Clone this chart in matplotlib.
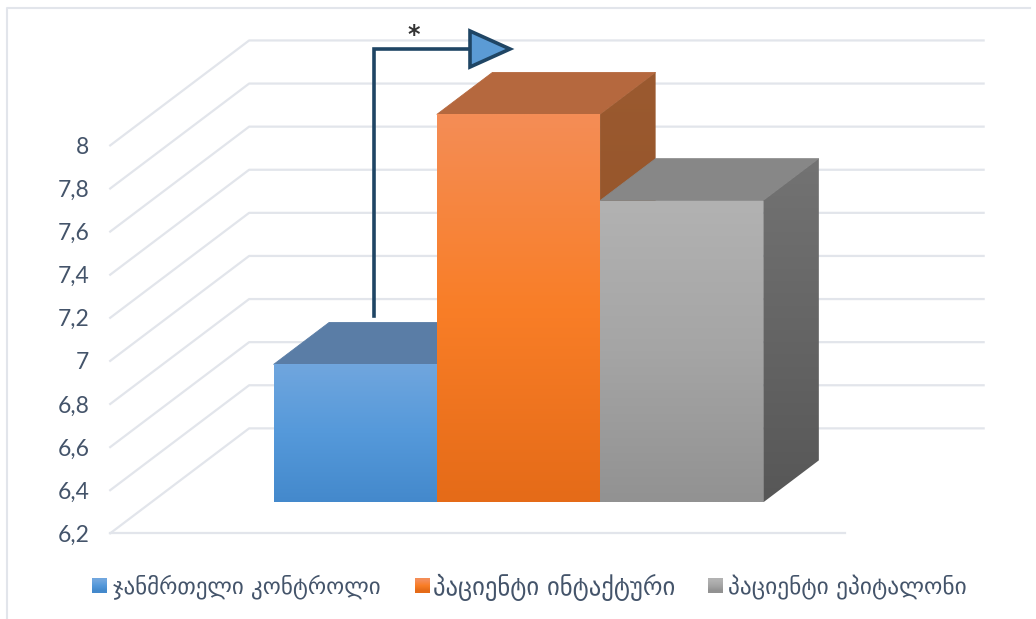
import matplotlib
matplotlib.use('Agg')
import matplotlib.pyplot as plt
from matplotlib.lines import Line2D
from matplotlib.patches import Polygon
import numpy as np

labels = ['ჯანმრთელი კონტროლი', 'პაციენტი ინტაქტური', 'პაციენტი ეპიტალონი']
values = [6.84, 8.0, 7.6]
ticks = [6.2, 6.4, 6.6, 6.8, 7.0, 7.2, 7.4, 7.6, 7.8, 8.0]
tick_labels = ['6,2', '6,4', '6,6', '6,8', '7', '7,2', '7,4', '7,6', '7,8', '8']

W, H = 1036, 619
GRID = '#e2e5eb'
TEXT = '#44546a'
NAVY = '#1f4564'

front_cols = [('#70a6de', '#5599da', '#4489cc'),
              ('#f48d56', '#f97e27', '#e56b18'),
              ('#b2b2b2', '#a5a5a5', '#929292')]
side_cols = [('#4f6f96', '#3a6a9a'),
             ('#9b5a30', '#8f4f22'),
             ('#737373', '#575757')]
top_cols = ['#5a7da6', '#b5683e', '#878787']

# oblique depth of the fake 3d box, in data units
DX = 139 / 163.3
DY = 0.487
T0, T1 = 0.295, 0.695


def proj(x, v, t):
    return (x + t * DX, v + t * DY)


def px(x, y):
    return (x / W, 1 - y / H)


def hex_rgb(c):
    return [int(c[i:i + 2], 16) / 255 for i in (1, 3, 5)]


def grad_poly(ax, pts, cols, z):
    pts = np.array(pts)
    stops = np.array([hex_rgb(c) for c in cols])
    n = 128
    pos = np.linspace(0, len(cols) - 1, n)
    img = np.stack([np.interp(pos, range(len(cols)), stops[:, i]) for i in range(3)], axis=1)
    img = img[:, None, :]
    im = ax.imshow(img, extent=(pts[:, 0].min(), pts[:, 0].max(), pts[:, 1].min(), pts[:, 1].max()),
                   aspect='auto', interpolation='bilinear', zorder=z)
    poly = Polygon(pts, closed=True, transform=ax.transData, fill=False, edgecolor='none')
    ax.add_patch(poly)
    poly.set_visible(False)
    im.set_clip_path(poly)
    im.set_clip_box(fig.bbox)


fig = plt.figure(figsize=(W / 100, H / 100), dpi=100)
ax = fig.add_axes([110.2 / W, 1 - 533.3 / H, 734.5 / W, (533.3 - 145.4) / H])
ax.set_xlim(-1.25, 3.25)
ax.set_ylim(6.2, 8.0)
for s in ax.spines.values():
    s.set_visible(False)
ax.patch.set_visible(False)
xmin, xmax = ax.get_xlim()

# wall and floor grid
for v in ticks:
    a = proj(xmin, v, 0)
    b = proj(xmin, v, 1)
    c = proj(xmax, v, 1)
    ax.plot([a[0], b[0], c[0]], [a[1], b[1], c[1]], color=GRID, lw=1.6, clip_on=False, zorder=1)
ax.plot([xmin, xmax], [ticks[0], ticks[0]], color=GRID, lw=1.6, clip_on=False, zorder=1)

# boxes, left to right so each one covers the side of the last
base = ticks[0]
for i, v in enumerate(values):
    l, r = i - 0.5, i + 0.5
    z = 3 + i * 3
    top = [proj(l, v, T0), proj(l, v, T1), proj(r, v, T1), proj(r, v, T0)]
    ax.add_patch(Polygon(top, closed=True, facecolor=top_cols[i], edgecolor=top_cols[i], lw=0.6,
                         clip_on=False, zorder=z))
    side = [proj(r, v, T0), proj(r, v, T1), proj(r, base, T1), proj(r, base, T0)]
    grad_poly(ax, side, side_cols[i], z + 1)
    front = [proj(l, v, T0), proj(r, v, T0), proj(r, base, T0), proj(l, base, T0)]
    grad_poly(ax, front, front_cols[i], z + 2)

ax.set_xlim(xmin, xmax)
ax.set_ylim(6.2, 8.0)
ax.set_xticks([])
ax.set_yticks(ticks)
ax.set_yticklabels(tick_labels, fontfamily='Lato', fontsize=16.5, color=TEXT)
ax.tick_params(axis='y', length=0, pad=15)

# significance connector
conn_x, conn_y = zip(px(373.5, 316), px(373.5, 49), px(472, 49))
fig.add_artist(Line2D(conn_x, conn_y, color=NAVY, lw=2.6, solid_joinstyle='miter', zorder=20))
fig.add_artist(Polygon([px(470, 31), px(510, 49), px(470, 67)], closed=True, transform=fig.transFigure,
                       facecolor='#5b9bd5', edgecolor=NAVY, lw=2.6, zorder=21))
fig.text(*px(414, 35), '*', ha='center', va='center', fontsize=17, fontweight='bold', color='#333333',
         fontfamily='DejaVu Sans')

# legend
swatch_x = [92, 415, 708]
text_x = [113, 433, 728]
legend_sizes = [16.6, 17.7, 16.8]
for i, lab in enumerate(labels):
    sw = fig.add_axes([swatch_x[i] / W, 1 - 593 / H, 15 / W, 15 / H])
    sw.axis('off')
    stops = np.array([hex_rgb(c) for c in front_cols[i]])
    sw.imshow(stops[:, None, :], aspect='auto', interpolation='bilinear')
    fig.text(text_x[i] / W, 1 - 587 / H, lab, ha='left', va='center', fontsize=legend_sizes[i], color=TEXT,
             fontfamily='DejaVu Sans')

# picture frame
fig.add_artist(Line2D(*zip(px(7, H), px(7, 8), px(1030, 8)), color=GRID, lw=1.5))

fig.savefig('out.png', dpi=100, facecolor='white')
